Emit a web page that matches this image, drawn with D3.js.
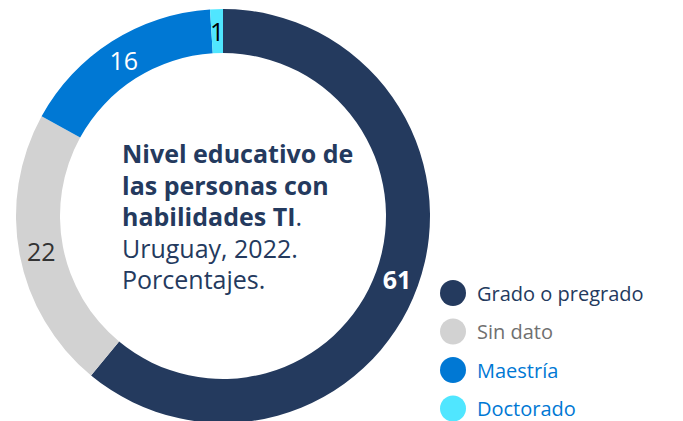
<!DOCTYPE html>
<html>
<head>
<meta charset="utf-8">
<script src="https://cdn.jsdelivr.net/npm/d3@7"></script>
<style>
  body { margin: 0; background: #fff; }
  svg { display: block; font-family: 'Segoe UI', 'Open Sans', sans-serif; }
</style>
</head>
<body>
<div id="chart"></div>
<script>
const categories = ['Grado o pregrado', 'Sin dato', 'Maestría', 'Doctorado']
const values = [61, 22, 16, 1]
const sliceColors = ['#243A5E', '#D2D2D2', '#0078D4', '#50E6FF']
const legendTextColors = ['#243A5E', '#707070', '#0078D4', '#0078D4']
const labelColors = ['#ffffff', '#333333', '#ffffff', '#000000']
const titleBold = ['Nivel educativo de', 'las personas con', 'habilidades TI']
const titleNormal = ['Uruguay, 2022.', 'Porcentajes.']

const width = 683, height = 421
const cx = 223, cy = 216
const outerR = 207, innerR = 163

const svg = d3.select('#chart').append('svg')
  .attr('width', width)
  .attr('height', height)

const pie = d3.pie().sort(null).value(d => d)
const arcs = pie(values)
const arc = d3.arc().innerRadius(innerR).outerRadius(outerR)
const labelArc = d3.arc().innerRadius(185).outerRadius(185)

const g = svg.append('g').attr('transform', 'translate(' + cx + ',' + cy + ')')

g.selectAll('.slice')
  .data(arcs)
  .enter().append('path')
  .attr('class', 'slice')
  .attr('d', arc)
  .attr('fill', (d, i) => sliceColors[i])

g.selectAll('.lbl')
  .data(arcs)
  .enter().append('text')
  .attr('class', 'lbl')
  .attr('transform', d => 'translate(' + labelArc.centroid(d) + ')')
  .attr('text-anchor', 'middle')
  .attr('dominant-baseline', 'central')
  .attr('font-size', 25)
  .attr('font-weight', (d, i) => i === 0 ? 700 : 400)
  .attr('fill', (d, i) => labelColors[i])
  .text(d => d.data)

// title in the hole
const title = svg.append('text').attr('x', 122).attr('fill', '#243A5E').attr('font-size', 25)
titleBold.forEach((line, i) => {
  title.append('tspan').attr('x', 122).attr('y', 163 + i * 31.5)
    .attr('font-weight', 700).text(line)
  if (i === titleBold.length - 1) {
    title.append('tspan').attr('font-weight', 400).text('.')
  }
})
titleNormal.forEach((line, i) => {
  title.append('tspan').attr('x', 122).attr('y', 163 + (titleBold.length + i) * 31.5)
    .attr('font-weight', 400).text(line)
})

// legend
const legend = svg.selectAll('.legend')
  .data(categories)
  .enter().append('g')
  .attr('class', 'legend')
  .attr('transform', (d, i) => 'translate(453,' + (293 + i * 38.5) + ')')

legend.append('circle')
  .attr('r', 13)
  .attr('fill', (d, i) => sliceColors[i])

legend.append('text')
  .attr('x', 24)
  .attr('dominant-baseline', 'central')
  .attr('font-size', 20)
  .attr('fill', (d, i) => legendTextColors[i])
  .text(d => d)
</script>
</body>
</html>
